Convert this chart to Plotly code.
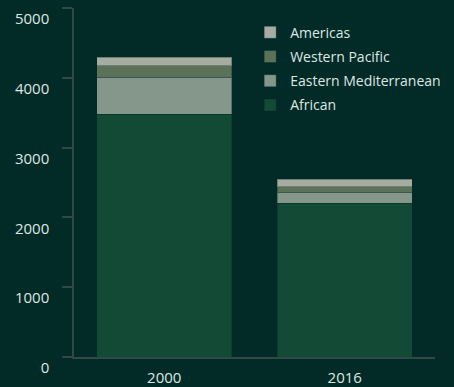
import plotly.graph_objects as go

years = ["2000", "2016"]
regions = ["African", "Eastern Mediterranean", "Western Pacific", "Americas"]
african = [3480, 2206]
eastern_med = [530, 148]
western_pacific = [165, 86]
americas = [120, 110]
y_ticks = [0, 1000, 2000, 3000, 4000, 5000]

series = [african, eastern_med, western_pacific, americas]
colors = ["#134a36", "#84978a", "#5b7259", "#a6ada0"]

bg = "#022b27"
axis_col = "#2f4a44"
text_col = "#dfe6e2"

fig = go.Figure()
for i, (name, vals, col) in enumerate(zip(regions, series, colors)):
    fig.add_trace(go.Bar(
        x=years, y=vals, name=name, legendgroup=name,
        legendrank=1000 - i,
        marker=dict(color=col, line=dict(color="rgba(2,43,39,0.35)", width=1)),
    ))

fig.update_layout(
    barmode="stack",
    bargap=0.25,
    width=454, height=387,
    margin=dict(l=74, r=17, t=8, b=30),
    paper_bgcolor=bg, plot_bgcolor=bg,
    font=dict(family="Open Sans", size=15, color=text_col),
    showlegend=True,
    legend=dict(
        traceorder="grouped",
        x=0.488, xanchor="left",
        y=0.975, yanchor="top",
        bgcolor="rgba(0,0,0,0)",
        font=dict(size=14, color=text_col),
        itemwidth=30,
        tracegroupgap=3,
    ),
    xaxis=dict(
        showline=True, linecolor=axis_col, linewidth=1.5,
        ticks="", showgrid=False, zeroline=False,
        ticklabelstandoff=6, automargin=False,
    ),
    yaxis=dict(
        range=[0, 5000], tickvals=y_ticks,
        showline=True, linecolor=axis_col, linewidth=1.5,
        ticks="outside", ticklen=10, tickcolor=axis_col, tickwidth=1.5,
        showgrid=False, zeroline=False, automargin=False,
        ticklabelshift=11, ticklabelstandoff=10,
        ticklabeloverflow="allow",
    ),
)

fig.write_html("out.html")
